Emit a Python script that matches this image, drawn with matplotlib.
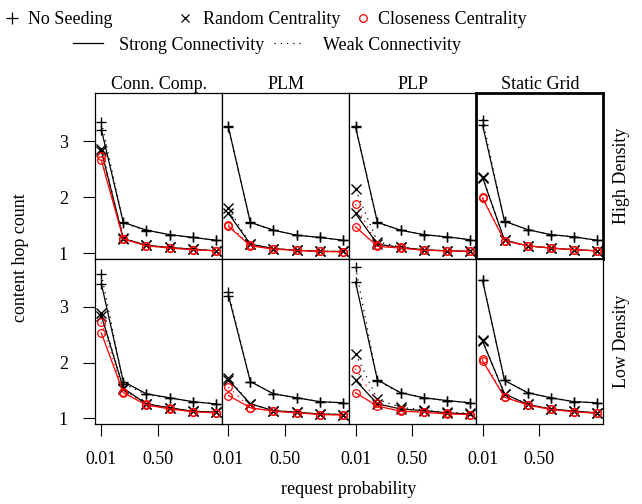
import matplotlib
matplotlib.use("Agg")
import matplotlib.pyplot as plt
from matplotlib.lines import Line2D

plt.rcParams['font.family'] = ['Liberation Serif', 'DejaVu Serif']
plt.rcParams['font.size'] = 13

# request probabilities on the x axis
req_prob = [0.01, 0.2, 0.4, 0.6, 0.8, 1.0]

algos = ['Conn. Comp.', 'PLM', 'PLP', 'Static Grid']
densities = ['High Density', 'Low Density']

# one row per panel: HD (CC, PLM, PLP, SG), then LD (CC, PLM, PLP, SG)
no_seed_strong = [
    [3.21, 1.55, 1.41, 1.33, 1.28, 1.23],
    [3.25, 1.55, 1.41, 1.32, 1.28, 1.23],
    [3.26, 1.55, 1.41, 1.33, 1.29, 1.24],
    [3.29, 1.57, 1.42, 1.33, 1.29, 1.23],
    [3.41, 1.66, 1.44, 1.37, 1.30, 1.26],
    [3.20, 1.66, 1.44, 1.37, 1.30, 1.28],
    [3.44, 1.69, 1.46, 1.37, 1.32, 1.28],
    [3.47, 1.68, 1.46, 1.37, 1.30, 1.28],
]
no_seed_weak = [
    [3.35, 1.54, 1.40, 1.33, 1.28, 1.23],
    [3.27, 1.54, 1.41, 1.32, 1.28, 1.23],
    [3.28, 1.54, 1.41, 1.33, 1.29, 1.24],
    [3.39, 1.56, 1.42, 1.33, 1.29, 1.23],
    [3.59, 1.62, 1.43, 1.36, 1.30, 1.26],
    [3.26, 1.66, 1.44, 1.37, 1.30, 1.28],
    [3.71, 1.67, 1.46, 1.37, 1.32, 1.28],
    [3.47, 1.68, 1.46, 1.37, 1.30, 1.28],
]
random_strong = [
    [2.83, 1.26, 1.14, 1.10, 1.07, 1.04],
    [1.71, 1.16, 1.08, 1.05, 1.03, 1.03],
    [1.71, 1.16, 1.10, 1.06, 1.04, 1.03],
    [2.35, 1.23, 1.13, 1.09, 1.06, 1.04],
    [2.84, 1.54, 1.26, 1.19, 1.13, 1.11],
    [1.69, 1.26, 1.14, 1.11, 1.08, 1.07],
    [1.68, 1.26, 1.17, 1.14, 1.10, 1.08],
    [2.38, 1.44, 1.25, 1.17, 1.13, 1.10],
]
random_weak = [
    [2.87, 1.27, 1.14, 1.10, 1.07, 1.04],
    [1.80, 1.16, 1.08, 1.05, 1.03, 1.03],
    [2.14, 1.20, 1.11, 1.06, 1.04, 1.03],
    [2.36, 1.23, 1.13, 1.09, 1.06, 1.04],
    [2.89, 1.52, 1.26, 1.19, 1.13, 1.11],
    [1.72, 1.26, 1.14, 1.11, 1.08, 1.07],
    [2.16, 1.34, 1.20, 1.15, 1.11, 1.09],
    [2.40, 1.44, 1.25, 1.17, 1.13, 1.10],
]
closeness_strong = [
    [2.66, 1.25, 1.13, 1.09, 1.06, 1.04],
    [1.48, 1.13, 1.07, 1.05, 1.03, 1.02],
    [1.47, 1.12, 1.09, 1.05, 1.04, 1.03],
    [1.98, 1.22, 1.13, 1.09, 1.06, 1.04],
    [2.53, 1.46, 1.24, 1.17, 1.12, 1.10],
    [1.41, 1.19, 1.13, 1.10, 1.07, 1.06],
    [1.46, 1.22, 1.13, 1.11, 1.08, 1.07],
    [2.03, 1.38, 1.24, 1.16, 1.12, 1.09],
]
closeness_weak = [
    [2.73, 1.26, 1.13, 1.09, 1.06, 1.04],
    [1.51, 1.14, 1.07, 1.05, 1.03, 1.02],
    [1.87, 1.14, 1.10, 1.05, 1.04, 1.03],
    [2.00, 1.22, 1.13, 1.09, 1.06, 1.04],
    [2.72, 1.48, 1.25, 1.18, 1.12, 1.10],
    [1.56, 1.19, 1.13, 1.10, 1.07, 1.06],
    [1.89, 1.28, 1.15, 1.12, 1.09, 1.07],
    [2.07, 1.38, 1.24, 1.16, 1.12, 1.09],
]

W, H = 642, 504
fig = plt.figure(figsize=(W / 100, H / 100), dpi=100)

left, right = 95, 603.3
top, bottom = 93.3, 424
pw = (right - left) / 4
ph = (bottom - top) / 2

dotted = (0, (1, 4))
series = [
    (no_seed_strong, 'k', '+', '-', 7.5, 1.0),
    (no_seed_weak, 'k', '+', dotted, 7.5, 1.0),
    (random_strong, 'k', 'x', '-', 6.5, 1.0),
    (random_weak, 'k', 'x', dotted, 6.5, 1.0),
    (closeness_strong, 'red', 'o', '-', 5.5, 0.9),
    (closeness_weak, 'red', 'o', dotted, 5.5, 0.9),
]

for r in range(2):
    for c in range(4):
        k = r * 4 + c
        x0 = left + c * pw
        y0 = top + r * ph
        ax = fig.add_axes([x0 / W, 1 - (y0 + ph) / H, pw / W, ph / H])
        for data, col, mk, ls, ms, mew in series:
            ax.plot(req_prob, data[k], color=col, marker=mk, linestyle=ls,
                    markersize=ms, markeredgewidth=mew, linewidth=0.9,
                    markerfacecolor='none')
        ax.set_xlim(-0.045, 1.055)
        ax.set_ylim(0.9, 3.86)
        ax.tick_params(direction='out', length=8.5, width=0.8, colors='k')
        if c == 0:
            ax.set_yticks([1, 2, 3])
            ax.tick_params(axis='y', pad=11)
        else:
            ax.set_yticks([])
        if r == 1:
            ax.set_xticks([0.01, 0.5])
            ax.set_xticklabels(['0.01', '0.50'])
            ax.tick_params(axis='x', pad=11)
        else:
            ax.set_xticks([])
        lw = 2.0 if (r == 0 and c == 3) else 0.9
        for sp in ax.spines.values():
            sp.set_linewidth(lw)
        if r == 0:
            ax.set_title(algos[c], fontsize=13, pad=3)
        if c == 3:
            ax.text(1.14, 0.5, densities[r], transform=ax.transAxes,
                    rotation=90, ha='center', va='center', fontsize=13)

fig.text(21 / W, 1 - 258 / H, 'content hop count', rotation=90,
         ha='center', va='center', fontsize=13)
fig.text(349 / W, 1 - 490 / H, 'request probability',
         ha='center', va='center', fontsize=13)

# key at the top, built item by item
fs_px = 13 * 100 / 72


def key(handle, label, hx0, hx1, tx, ypx):
    hl = (hx1 - hx0) / fs_px
    pad = (tx - hx1) / fs_px
    fig.legend([handle], [label], loc='center left',
               bbox_to_anchor=(hx0 / W, 1 - ypx / H), frameon=False,
               borderpad=0, borderaxespad=0, handlelength=hl,
               handletextpad=pad, fontsize=13)


key(Line2D([], [], color='k', marker='+', linestyle='none', markersize=9,
           markeredgewidth=0.9), 'No Seeding', 3.3, 21.3, 28.3, 20)
key(Line2D([], [], color='k', marker='x', linestyle='none', markersize=6,
           markeredgewidth=0.9), 'Random Centrality', 176, 194, 203, 20)
key(Line2D([], [], color='red', marker='o', linestyle='none', markersize=5.5,
           markerfacecolor='none', markeredgewidth=0.9),
    'Closeness Centrality', 354.3, 372.3, 377.7, 20)
key(Line2D([], [], color='k', linestyle='-', linewidth=0.9),
    'Strong Connectivity', 72.7, 102.7, 119.3, 45)
key(Line2D([], [], color='k', linestyle=dotted, linewidth=0.9),
    'Weak Connectivity', 274, 304, 322.7, 45)

fig.savefig('out.png', dpi=100)
